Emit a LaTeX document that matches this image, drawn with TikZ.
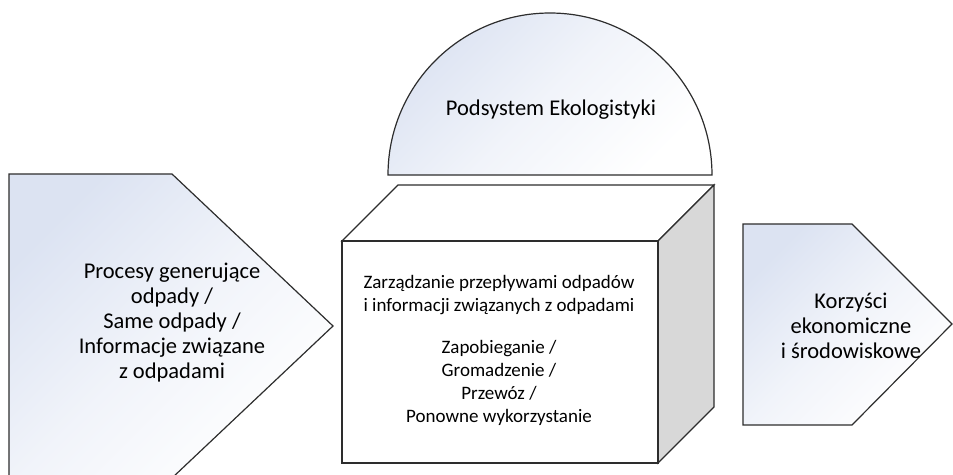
\documentclass[tikz,border=0pt]{standalone}
\usepackage{fontspec}
\setmainfont{Carlito}
\usetikzlibrary{positioning}

\definecolor{ecoblue}{RGB}{220,227,242}
\definecolor{ecoline}{RGB}{45,45,45}
\definecolor{ecoside}{RGB}{216,216,216}

\begin{document}
\begin{tikzpicture}[x=1pt,y=-1pt,line join=miter,
  blok/.style={draw=ecoline, line width=1.2pt, top color=ecoblue, bottom color=white, middle color=ecoblue!40, shading angle=45},
  sciana/.style={draw=ecoline, line width=1.2pt, fill=#1},
  txt/.style={align=center, font=\fontsize{19}{23}\selectfont, inner sep=0pt},
  duzy/.style={txt, font=\fontsize{22.5}{25}\selectfont}]
\clip (0,0) rectangle (953,474);
% wejscie
\path[blok] (9,174) -- (172,174) -- (333,326) -- (172,478) -- (9,478) -- cycle;
% podsystem
\path[blok] (388,175) arc[start angle=180, end angle=360, radius=162] -- cycle;
% kostka
\path[sciana=white] (342,241) -- (398,185) -- (714,185) -- (658,241) -- cycle;
\path[sciana=ecoside] (658,241) -- (714,185) -- (714,407) -- (658,463) -- cycle;
\path[sciana=white] (342,241) rectangle (658,463);
% wyjscie
\path[blok] (743,224) -- (852,224) -- (952,324) -- (852,425) -- (743,425) -- cycle;

\node[duzy] (procesy) at (172,323) {Procesy generujące\\odpady /\\Same odpady /\\Informacje związane\\z odpadami};
\node[duzy] (podsystem) at (551,110) {Podsystem Ekologistyki};
\node[txt] (zarzadzanie) at (499,295) {Zarządzanie przepływami odpadów\\i informacji związanych z odpadami};
\node[txt, below=25pt of zarzadzanie] (dzialania) {Zapobieganie /\\Gromadzenie /\\Przewóz /\\Ponowne wykorzystanie};
\node[duzy] (korzysci) at (851,326) {Korzyści\\ekonomiczne\\i środowiskowe};
\end{tikzpicture}
\end{document}
